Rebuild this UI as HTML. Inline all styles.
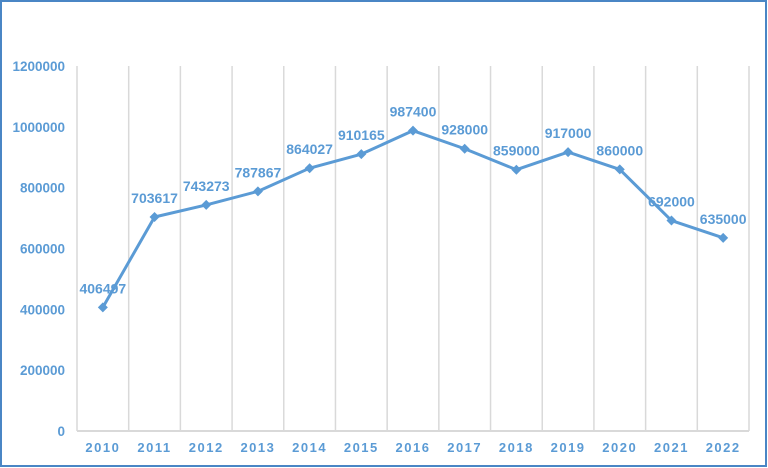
<!DOCTYPE html>
<html><head><meta charset="utf-8"><style>
html,body{margin:0;padding:0;background:#fff}
svg{display:block;font-family:"Liberation Sans",sans-serif}
</style></head><body>
<svg id="c" width="768" height="468">
<rect x="1" y="1" width="765" height="465" fill="#fff" stroke="#4a86c5" stroke-width="2"/>
<g id="grid"></g><g id="axes"></g><g id="series"></g>
</svg>
<script>
const years=["2010","2011","2012","2013","2014","2015","2016","2017","2018","2019","2020","2021","2022"];
const values=[406497,703617,743273,787867,864027,910165,987400,928000,859000,917000,860000,692000,635000];
const yTicks=[0,200000,400000,600000,800000,1000000,1200000];
const NS="http://www.w3.org/2000/svg";
const L=77,R=749,T=66,B=431,MAX=1200000;
const bw=(R-L)/years.length;
const xs=i=>L+bw*(i+0.5);
const ys=v=>B-(v/MAX)*(B-T);
const col="#5b9bd5";
function mk(tag,attrs,parent,text){const e=document.createElementNS(NS,tag);for(const k in attrs)e.setAttribute(k,attrs[k]);if(text!==undefined)e.textContent=text;document.getElementById(parent).appendChild(e);return e;}
for(let i=0;i<=years.length;i++){
  const g=mk("line",{x1:L+bw*i,x2:L+bw*i,y1:T,y2:B,stroke:"#d9d9d9","stroke-width":1.5},"grid");
  
  
}
const ax=mk("line",{x1:L,x2:R,y1:B,y2:B,stroke:"#d9d9d9","stroke-width":2},"axes");


yTicks.forEach(v=>{
  const t=mk("text",{x:65,y:ys(v)+5,"text-anchor":"end","font-size":13.5,"font-weight":"bold",fill:col},"axes",String(v));
  
  
});
years.forEach((y,i)=>{
  const t=mk("text",{x:xs(i),y:452,"text-anchor":"middle","font-size":13,"font-weight":"bold",fill:col,"letter-spacing":"1.5"},"axes",y);
  
  
});
const pl=mk("polyline",{points:values.map((v,i)=>xs(i)+","+ys(v)).join(" "),fill:"none",stroke:col,"stroke-width":3,"stroke-linejoin":"round"},"series");


values.forEach((v,i)=>{
  const x=xs(i),y=ys(v);
  const m=mk("polygon",{points:`${x},${y-5} ${x+5},${y} ${x},${y+5} ${x-5},${y}`,fill:col},"series");
  
  
  const t=mk("text",{x:x,y:y-14,"text-anchor":"middle","font-size":14,"font-weight":"bold",fill:col},"series",String(v));
  
  
});
</script>
</body></html>
